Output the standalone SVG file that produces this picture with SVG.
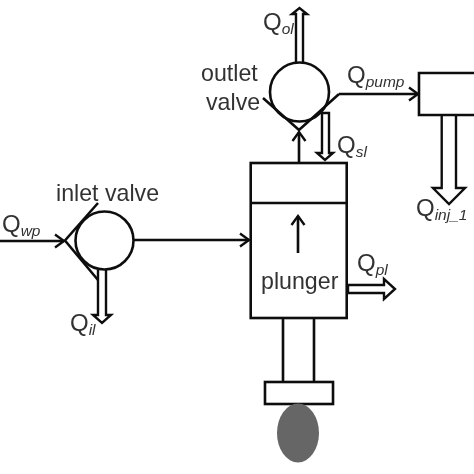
<svg xmlns="http://www.w3.org/2000/svg" width="474" height="474" viewBox="0 0 474 474">
<style>
.l{fill:none;stroke:#111;stroke-width:2.6}
.w{fill:#fff;stroke:#111;stroke-width:2.6}
.d{fill:#fff;stroke:#111;stroke-width:2.4;stroke-linejoin:miter}
text{font-family:"Liberation Sans",Arial,sans-serif;fill:#333}
.t{font-size:23.200px}
.q{font-size:24px}
.s{font-size:15.500px;font-style:italic}
</style>
<defs>
<marker id="a" markerUnits="userSpaceOnUse" markerWidth="14" markerHeight="16" refX="11" refY="8" orient="auto"><path d="M2 1.500L11 8L2 14.500" fill="none" stroke="#111" stroke-width="2.400"/></marker>
<filter id="b" x="0" y="0" width="100%" height="100%" filterUnits="userSpaceOnUse"><feGaussianBlur stdDeviation="0.500"/></filter>
</defs>
<rect width="474" height="474" fill="#fff"/>
<g filter="url(#b)">
<g id="connectors">
<path class="l" d="M0 241H64" marker-end="url(#a)"/>
<path class="l" d="M133 240H249" marker-end="url(#a)"/>
<path class="l" d="M339 94H418" marker-end="url(#a)"/>
<path class="l" d="M299 163V132" marker-end="url(#a)"/>
<path class="l" d="M298 253V216" marker-end="url(#a)"/>
<path class="d" id="q-il" d="M98 270V315H93L102 323L111 315H106V270"/>
<path class="d" id="q-ol" d="M296 62V14H292L299.500 8L307 14H303V62"/>
<path class="d" id="q-sl" d="M322 113V153H317L325 160L333 153H329V113Z"/>
<path class="d" id="q-pl" d="M348 285H384V279L395 289L384 299V293H348Z"/>
<path class="d" id="q-inj" d="M441.700 115V188H433L449 204L465 188H456V115"/>
</g>
<g id="inlet-valve">
<circle class="w" cx="104.500" cy="240.500" r="29"/>
<path class="l" d="M98 203L65 240.500L98 280"/>
<text class="t" x="56" y="201">inlet valve</text>
</g>
<g id="outlet-valve">
<circle class="w" cx="299.500" cy="92" r="29.500"/>
<path class="l" d="M263 98L299 130L339 94"/>
<text class="t" x="201" y="81">outlet</text>
<text class="t" x="206" y="110">valve</text>
</g>
<g id="injector">
<path class="w" d="M476 73H419V115H476"/>
</g>
<g id="plunger">
<rect class="l" x="250.700" y="163" width="96" height="155"/>
<path class="l" d="M250.700 203H346.700"/>
<text class="t" x="261" y="289">plunger</text>
</g>
<g id="stem">
<path class="l" d="M283 318V381M314 318V381"/>
<rect class="w" x="265" y="382" width="68" height="22"/>
</g>
<g id="cam">
<ellipse cx="298" cy="433" rx="21" ry="29.500" fill="#666"/>
</g>
<g id="labels">
<text x="2" y="232"><tspan class="q">Q</tspan><tspan class="s" dy="4">wp</tspan></text>
<text x="70" y="331"><tspan class="q">Q</tspan><tspan class="s" dy="4">il</tspan></text>
<text x="263" y="30"><tspan class="q">Q</tspan><tspan class="s" dy="4">ol</tspan></text>
<text x="347" y="83"><tspan class="q">Q</tspan><tspan class="s" dy="4">pump</tspan></text>
<text x="337" y="153"><tspan class="q">Q</tspan><tspan class="s" dy="4">sl</tspan></text>
<text x="416" y="216"><tspan class="q">Q</tspan><tspan class="s" dy="4">inj_1</tspan></text>
<text x="357" y="271"><tspan class="q">Q</tspan><tspan class="s" dy="4">pl</tspan></text>
</g>
</g>
</svg>
